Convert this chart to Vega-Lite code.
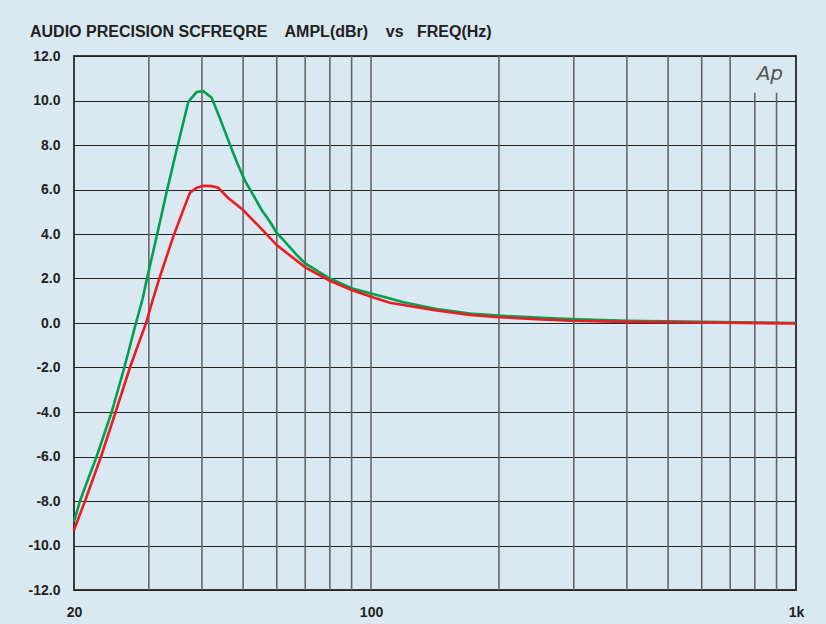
{
  "$schema": "https://vega.github.io/schema/vega-lite/v6.json",
  "autosize": "none",
  "width": 722,
  "height": 534,
  "padding": {"left": 74, "top": 56, "right": 30, "bottom": 34},
  "background": "#d9e8f1",
  "config": {
    "view": {"stroke": "#3a3a3a", "strokeWidth": 2, "fill": "#d9e8f1"},
    "font": "Liberation Sans",
    "title": {"font": "Liberation Sans", "fontSize": 16, "fontWeight": "bold", "color": "#222222"}
  },
  "title": {
    "text": "AUDIO PRECISION SCFREQRE \u00a0\u00a0 AMPL(dBr) \u00a0\u00a0 vs \u00a0\u00a0FREQ(Hz)",
    "anchor": "start",
    "frame": "group",
    "dx": -44,
    "offset": 9,
    "fontSize": 16
  },
  "datasets": {
    "vgrid": [
      {"f": 30, "bottom": -12, "top": 12}, {"f": 40, "bottom": -12, "top": 12}, {"f": 50, "bottom": -12, "top": 12}, {"f": 60, "bottom": -12, "top": 12},
      {"f": 70, "bottom": -12, "top": 12}, {"f": 80, "bottom": -12, "top": 12}, {"f": 90, "bottom": -12, "top": 12}, {"f": 100, "bottom": -12, "top": 12},
      {"f": 200, "bottom": -12, "top": 12}, {"f": 300, "bottom": -12, "top": 12}, {"f": 400, "bottom": -12, "top": 12}, {"f": 500, "bottom": -12, "top": 12},
      {"f": 600, "bottom": -12, "top": 12}, {"f": 700, "bottom": -12, "top": 12}, {"f": 800, "bottom": -12, "top": 10.35}, {"f": 900, "bottom": -12, "top": 10.35}
    ],
    "curves": [
      {"series": "green", "f": 20, "db": -8.93},
      {"series": "green", "f": 20.66, "db": -8.0},
      {"series": "green", "f": 21.6, "db": -7.0},
      {"series": "green", "f": 22.61, "db": -6.0},
      {"series": "green", "f": 24.53, "db": -4.0},
      {"series": "green", "f": 26.27, "db": -2.0},
      {"series": "green", "f": 27.98, "db": 0.0},
      {"series": "green", "f": 29.02, "db": 1.1},
      {"series": "green", "f": 29.66, "db": 1.95},
      {"series": "green", "f": 31.31, "db": 3.9},
      {"series": "green", "f": 33.05, "db": 5.9},
      {"series": "green", "f": 34.89, "db": 7.8},
      {"series": "green", "f": 36.15, "db": 9.0},
      {"series": "green", "f": 37.16, "db": 9.95},
      {"series": "green", "f": 38.89, "db": 10.38},
      {"series": "green", "f": 40.3, "db": 10.42},
      {"series": "green", "f": 42.17, "db": 10.12},
      {"series": "green", "f": 44.09, "db": 9.2},
      {"series": "green", "f": 46.13, "db": 8.22},
      {"series": "green", "f": 48.28, "db": 7.25},
      {"series": "green", "f": 50.5, "db": 6.4},
      {"series": "green", "f": 52.83, "db": 5.75},
      {"series": "green", "f": 55.29, "db": 5.08},
      {"series": "green", "f": 57.83, "db": 4.55},
      {"series": "green", "f": 60, "db": 4.05},
      {"series": "green", "f": 61.7, "db": 3.8},
      {"series": "green", "f": 66.84, "db": 3.06},
      {"series": "green", "f": 70, "db": 2.68},
      {"series": "green", "f": 80, "db": 2.0},
      {"series": "green", "f": 90, "db": 1.56},
      {"series": "green", "f": 100, "db": 1.33},
      {"series": "green", "f": 110.8, "db": 1.1},
      {"series": "green", "f": 119.1, "db": 0.93},
      {"series": "green", "f": 142.7, "db": 0.63},
      {"series": "green", "f": 170.9, "db": 0.43},
      {"series": "green", "f": 200, "db": 0.33},
      {"series": "green", "f": 245.4, "db": 0.24},
      {"series": "green", "f": 293.9, "db": 0.18},
      {"series": "green", "f": 400, "db": 0.1},
      {"series": "green", "f": 600, "db": 0.05},
      {"series": "green", "f": 800, "db": 0.02},
      {"series": "green", "f": 1000, "db": 0.0},
      {"series": "red", "f": 20, "db": -9.3},
      {"series": "red", "f": 21.23, "db": -8.0},
      {"series": "red", "f": 23.16, "db": -6.0},
      {"series": "red", "f": 25.06, "db": -4.0},
      {"series": "red", "f": 27.08, "db": -2.0},
      {"series": "red", "f": 29.55, "db": 0.0},
      {"series": "red", "f": 30.63, "db": 1.03},
      {"series": "red", "f": 31.87, "db": 2.1},
      {"series": "red", "f": 34.25, "db": 3.88},
      {"series": "red", "f": 36.15, "db": 5.08},
      {"series": "red", "f": 37.49, "db": 5.85},
      {"series": "red", "f": 38.89, "db": 6.08},
      {"series": "red", "f": 40.3, "db": 6.17},
      {"series": "red", "f": 42.17, "db": 6.15},
      {"series": "red", "f": 43.69, "db": 6.08},
      {"series": "red", "f": 46.13, "db": 5.62},
      {"series": "red", "f": 50, "db": 5.08},
      {"series": "red", "f": 55.29, "db": 4.22},
      {"series": "red", "f": 60, "db": 3.5},
      {"series": "red", "f": 70, "db": 2.5},
      {"series": "red", "f": 80, "db": 1.9},
      {"series": "red", "f": 90, "db": 1.48},
      {"series": "red", "f": 100, "db": 1.18},
      {"series": "red", "f": 110.8, "db": 0.91},
      {"series": "red", "f": 119.1, "db": 0.81},
      {"series": "red", "f": 142.7, "db": 0.56},
      {"series": "red", "f": 170.9, "db": 0.36},
      {"series": "red", "f": 200, "db": 0.26},
      {"series": "red", "f": 245.4, "db": 0.17},
      {"series": "red", "f": 293.9, "db": 0.1},
      {"series": "red", "f": 400, "db": 0.05},
      {"series": "red", "f": 600, "db": 0.02},
      {"series": "red", "f": 1000, "db": -0.02}
    ],
    "logo": [{"f": 868, "db": 11.2, "label": "Ap"}]
  },
  "layer": [
    {
      "data": {"name": "vgrid"},
      "mark": {"type": "rule", "color": "#666666", "strokeWidth": 1.6},
      "encoding": {
        "x": {
          "field": "f", "type": "quantitative",
          "scale": {"type": "log", "domain": [20, 1000], "nice": false},
          "axis": {
            "values": [20, 100, 1000],
            "labelExpr": "datum.value == 1000 ? '1k' : datum.value == 100 ? '100' : '20'",
            "grid": false, "ticks": false, "domain": false, "title": null,
            "labelFont": "Liberation Sans", "labelFontSize": 14, "labelFontWeight": "bold",
            "labelColor": "#222222", "labelPadding": 15, "labelFlush": false, "labelOverlap": false
          }
        },
        "y": {
          "field": "bottom", "type": "quantitative",
          "scale": {"domain": [-12, 12], "nice": false},
          "axis": {
            "values": [-12, -10, -8, -6, -4, -2, 0, 2, 4, 6, 8, 10, 12],
            "labelExpr": "replace(format(datum.value, '.1f'), '\u2212', '-')",
            "grid": true, "gridColor": "#222222", "gridWidth": 1.2, "gridOpacity": 1,
            "ticks": false, "domain": false, "title": null,
            "labelFont": "Liberation Sans", "labelFontSize": 14, "labelFontWeight": "bold",
            "labelColor": "#222222", "labelPadding": 14, "labelOverlap": false
          }
        },
        "y2": {"field": "top"}
      }
    },
    {
      "data": {"name": "curves"},
      "mark": {"type": "line", "strokeWidth": 2.6, "interpolate": "linear"},
      "encoding": {
        "x": {
          "field": "f", "type": "quantitative",
          "scale": {"type": "log", "domain": [20, 1000], "nice": false},
          "axis": {
            "values": [20, 100, 1000],
            "labelExpr": "datum.value == 1000 ? '1k' : datum.value == 100 ? '100' : '20'",
            "grid": false, "ticks": false, "domain": false, "title": null,
            "labelFont": "Liberation Sans", "labelFontSize": 14, "labelFontWeight": "bold",
            "labelColor": "#222222", "labelPadding": 15, "labelFlush": false, "labelOverlap": false
          }
        },
        "y": {
          "field": "db", "type": "quantitative",
          "scale": {"domain": [-12, 12], "nice": false},
          "axis": {
            "values": [-12, -10, -8, -6, -4, -2, 0, 2, 4, 6, 8, 10, 12],
            "labelExpr": "replace(format(datum.value, '.1f'), '\u2212', '-')",
            "grid": true, "gridColor": "#222222", "gridWidth": 1.2, "gridOpacity": 1,
            "ticks": false, "domain": false, "title": null,
            "labelFont": "Liberation Sans", "labelFontSize": 14, "labelFontWeight": "bold",
            "labelColor": "#222222", "labelPadding": 14, "labelOverlap": false
          }
        },
        "color": {
          "field": "series", "type": "nominal",
          "scale": {"domain": ["green", "red"], "range": ["#00a04e", "#ec1c24"]},
          "legend": null
        },
        "order": {"field": "f", "type": "quantitative"}
      }
    },
    {
      "data": {"name": "logo"},
      "mark": {"type": "text", "font": "DejaVu Sans", "fontSize": 20, "fontStyle": "italic", "fontWeight": 300, "color": "#555555"},
      "encoding": {
        "x": {"field": "f", "type": "quantitative", "scale": {"type": "log", "domain": [20, 1000], "nice": false}},
        "y": {"field": "db", "type": "quantitative", "scale": {"domain": [-12, 12], "nice": false}},
        "text": {"field": "label"}
      }
    }
  ]
}
